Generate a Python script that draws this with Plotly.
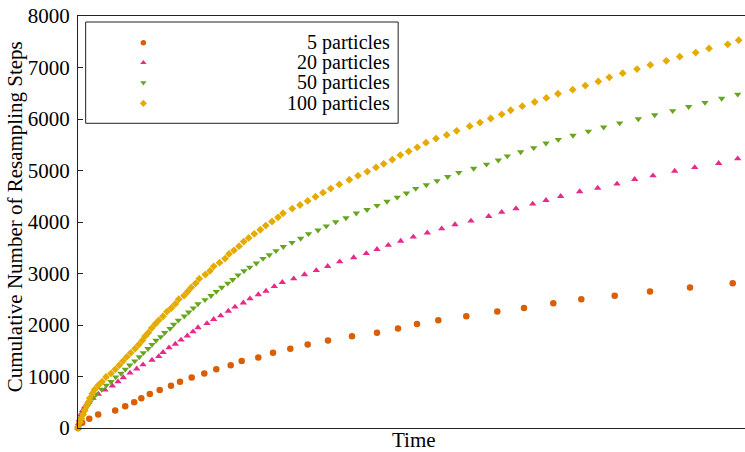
import plotly.graph_objects as go

# ---- data (time in arbitrary units, cumulative resampling steps) ----
series_names = ["5 particles", "20 particles", "50 particles", "100 particles"]

t_5 = [0, 4.2, 11.3, 20.2, 37.2, 47.2, 56.2, 63.3, 71.8, 81.7, 93, 102, 113.7, 126.3, 138.3,
       152.7, 163.7, 180.3, 195, 212.3, 229.7, 250, 274, 299, 320, 339, 360.3, 388.3, 419.3,
       446, 475.3, 503.3, 536.7, 572, 612, 654.7]
y_5 = [0, 100, 180, 260, 340, 420, 500, 580, 660, 740, 820, 900, 980, 1060, 1140,
       1220, 1300, 1370, 1460, 1540, 1620, 1700, 1780, 1850, 1930, 2020, 2090, 2170, 2260,
       2330, 2420, 2500, 2570, 2650, 2730, 2810]

t_20 = [0, 0.7, 1.5, 2.7, 4.7, 7, 10.7, 15, 20.3, 27, 34.3, 40, 45.3, 52, 58.7, 65, 74, 80.7,
        85, 91, 97.3, 103, 109.3, 115, 120, 129, 135.7, 142.7, 150.3, 157, 165.3, 172, 180.3,
        188, 196.3, 204.3, 215.7, 226.5, 238.3, 249.7, 261.7, 275.7, 288.3, 299, 310.3, 322.7,
        335.3, 349.3, 363.7, 377, 393, 410.7, 423.7, 438, 454.7, 468, 482.7, 501.7, 519.7,
        539, 556.7, 575, 596.7, 616.7, 640.7, 659.7]
y_20 = [0, 90, 170, 260, 340, 420, 500, 580, 660, 740, 820, 900, 980, 1070, 1150, 1230, 1320, 1390,
        1470, 1560, 1630, 1710, 1790, 1870, 1950, 2030, 2110, 2180, 2270, 2350, 2430, 2510, 2590,
        2660, 2750, 2830, 2900, 2980, 3060, 3140, 3230, 3310, 3390, 3470, 3550, 3630,
        3710, 3790, 3870, 3950, 4020, 4110, 4190, 4260, 4350, 4420, 4500, 4590, 4660,
        4740, 4830, 4900, 4990, 5060, 5140, 5230]

t_50 = [0, 1.3, 3, 5, 7, 9.3, 12, 15, 18.3, 23.7, 28.3, 33, 37.7, 43, 47.3, 51.7, 56.7, 61.3,
        65.3, 70, 74, 78, 82.7, 86.7, 92, 95.7, 100.3, 106.3, 110.7, 115.3, 120, 127, 133,
        138.3, 143.7, 149.7, 154.7, 160, 166, 171.7, 178.3, 185, 191.3, 198, 205.3, 214,
        222.7, 230.5, 240, 248.3, 257.7, 268, 278.3, 289, 299, 309, 319.2, 328.5, 337.7,
        348.3, 359, 369.7, 380.8, 395.7, 408.5, 420.3, 429.3, 442.7, 455.7, 468, 480.3, 495,
        510.3, 525.7, 541.7, 560.3, 576.7, 594.7, 610.7, 627, 643.7, 659.7]
y_50 = [0, 110, 190, 270, 350, 420, 500, 590, 660, 750, 830, 900, 990, 1060, 1140, 1220, 1300, 1380,
        1460, 1540, 1620, 1700, 1770, 1850, 1930, 2010, 2090, 2170, 2250, 2330, 2410, 2490, 2570,
        2650, 2730, 2810, 2880, 2970, 3050, 3120, 3200, 3290, 3360, 3440, 3520, 3600,
        3680, 3770, 3840, 3920, 4000, 4080, 4170, 4240, 4320, 4400, 4480, 4560, 4650,
        4720, 4800, 4880, 4960, 5040, 5120, 5200, 5280, 5360, 5440, 5530, 5600, 5680,
        5760, 5840, 5920, 6000, 6080, 6160, 6240, 6320, 6400, 6480]

t_100 = [0, 2, 3.3, 5, 6.7, 8.3, 10.3, 11.7, 14.3, 16.7, 20.3, 24, 28, 33, 37.3, 41.3, 45, 48.7,
         52.7, 57, 60.8, 64.3, 67, 70.3, 73.7, 77.3, 80.7, 85, 89, 93.3, 97.3, 100.7, 106,
         109.7, 113.3, 117.7, 121.3, 127.3, 132, 135.7, 141.5, 147, 151, 156, 161, 165.7,
         170.7, 176.3, 182.3, 187.7, 194, 200, 205, 214.3, 222, 229.7, 237.5, 245, 252.7,
         261.3, 271.3, 280, 289.3, 298, 305.7, 314.3, 322.3, 330.7, 339.3, 348, 358, 368.7,
         378.7, 391.7, 402, 412.7, 423.7, 432.7, 444.3, 456.7, 468.3, 480, 494.7, 507.3,
         520.3, 531.3, 544.7, 559, 572.3, 588.3, 601.7, 617.7, 631, 649.7, 660.7]
y_100 = [0, 110, 180, 260, 340, 420, 500, 580, 670, 750, 830, 900, 990, 1060, 1140, 1220, 1300, 1380,
         1460, 1540, 1620, 1700, 1780, 1850, 1940, 2020, 2090, 2170, 2260, 2330, 2410, 2500, 2570,
         2650, 2730, 2810, 2900, 2980, 3050, 3140, 3210, 3290, 3380, 3450, 3530, 3620,
         3690, 3770, 3850, 3930, 4010, 4090, 4170, 4260, 4330, 4410, 4490, 4570, 4650,
         4730, 4820, 4900, 4980, 5060, 5130, 5210, 5300, 5370, 5450, 5540, 5620, 5690,
         5770, 5860, 5930, 6010, 6090, 6170, 6250, 6330, 6410, 6490, 6570, 6650,
         6730, 6810, 6890, 6970, 7050, 7130, 7210, 7290, 7370, 7450, 7530]

y_ticks = [0, 1000, 2000, 3000, 4000, 5000, 6000, 7000, 8000]

times = [t_5, t_20, t_50, t_100]
values = [y_5, y_20, y_50, y_100]
colors = ["#d95f02", "#e7298a", "#66a61e", "#e6ab02"]
symbols = ["circle", "triangle-up", "triangle-down", "diamond"]
sizes = [6.5, 6.5, 6.5, 6]

FONT = "Liberation Serif, Times New Roman, serif"

fig = go.Figure()
for name, t, v, c, s, sz in zip(series_names, times, values, colors, symbols, sizes):
    fig.add_trace(go.Scatter(
        x=t, y=v, mode="markers", name=name, cliponaxis=False,
        marker=dict(symbol=s, size=sz, color=c, line=dict(width=0)),
        showlegend=False,
    ))

# ---- hand-made legend (markers left, labels right-aligned) ----
leg_x_marker = 0.098
leg_x_text = 0.471
leg_rows = [0.9352, 0.8867, 0.8381, 0.7881]
for name, c, s, yy in zip(series_names, colors, symbols, leg_rows):
    fig.add_trace(go.Scatter(
        x=[leg_x_marker], y=[yy], mode="markers", xaxis="x2", yaxis="y2",
        marker=dict(symbol=s, size=5.5, color=c, line=dict(width=0)),
        showlegend=False, hoverinfo="skip",
    ))
    fig.add_annotation(
        x=leg_x_text, y=yy, xref="paper", yref="paper", text=name, showarrow=False,
        xanchor="right", yanchor="middle", font=dict(family=FONT, size=20, color="#000"),
    )

fig.add_shape(type="rect", xref="paper", yref="paper",
              x0=0.0115, x1=0.480, y0=0.7396, y1=0.9854,
              line=dict(color="#222", width=1), fillcolor="rgba(0,0,0,0)")

# axis titles
fig.add_annotation(x=0.504, y=0, xref="paper", yref="paper", text="Time", showarrow=False,
                   xanchor="center", yanchor="middle", yshift=-12,
                   font=dict(family=FONT, size=21, color="#000"))
fig.add_annotation(x=-0.094, y=0.512, xref="paper", yref="paper",
                   text="Cumulative Number of Resampling Steps", showarrow=False,
                   textangle=-90, xanchor="center", yanchor="middle",
                   font=dict(family=FONT, size=21, color="#000"))

fig.update_layout(
    width=745, height=452,
    margin=dict(l=78, r=0, t=16, b=24),
    paper_bgcolor="white", plot_bgcolor="white",
    showlegend=False,
    font=dict(family=FONT, size=21, color="#000"),
    xaxis=dict(range=[0, 667], showgrid=False, zeroline=False, showticklabels=False,
               ticks="", showline=True, linecolor="#222", linewidth=1.3, mirror=True),
    yaxis=dict(range=[0, 8000], tickvals=y_ticks, ticktext=[str(v) for v in y_ticks],
               showgrid=False, zeroline=False, ticks="inside", ticklen=5, tickwidth=1,
               tickcolor="#222", showline=True, linecolor="#222", linewidth=1.3,
               ticklabelstandoff=3, tickfont=dict(family=FONT, size=21, color="#000")),
    xaxis2=dict(range=[0, 1], overlaying="x", visible=False),
    yaxis2=dict(range=[0, 1], overlaying="y", visible=False),
)

fig.write_html(
    "out.html",
    config={"displayModeBar": False},
    post_script="document.body.style.margin='0px';document.body.style.overflow='hidden';",
)
